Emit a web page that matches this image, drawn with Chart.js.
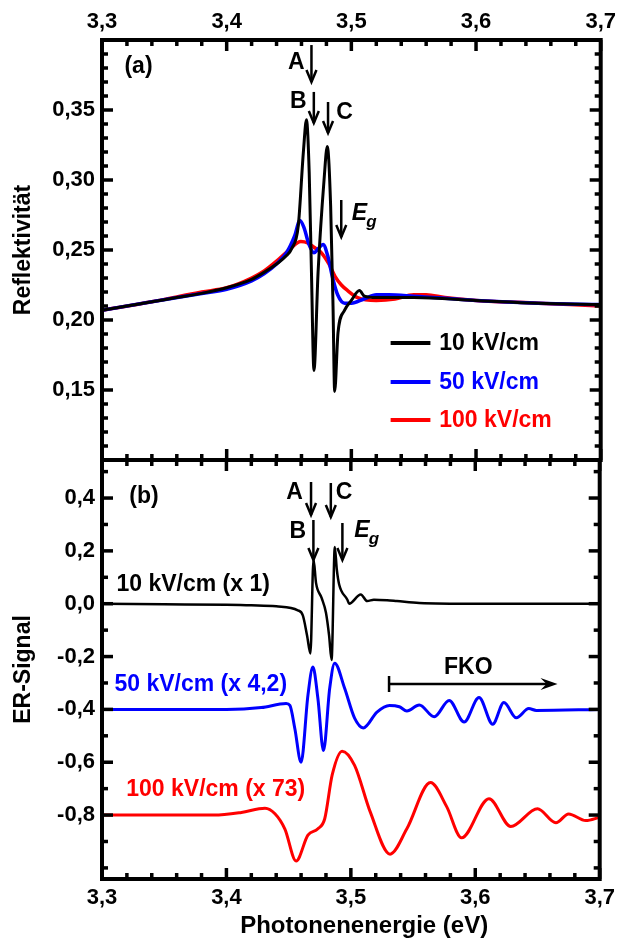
<!DOCTYPE html>
<html>
<head>
<meta charset="utf-8">
<script src="https://cdn.jsdelivr.net/npm/chart.js@4.4.0/dist/chart.umd.min.js"></script>
<style>
  body { margin: 0; background: #ffffff; }
  #wrap { position: relative; width: 621px; height: 943px; }
  #wrap canvas { position: absolute; left: 0; top: 0; }
</style>
</head>
<body>
<div id="wrap">
  <canvas id="reflChart" width="621" height="943"></canvas>
  <canvas id="erChart" width="621" height="943"></canvas>
</div>
<script>
// ---- data ----
var energyTicks = [3.3, 3.4, 3.5, 3.6, 3.7];
var reflTicks = [0.15, 0.20, 0.25, 0.30, 0.35];
var erTicks = [-0.8, -0.6, -0.4, -0.2, 0.0, 0.2, 0.4];

// (a) Reflektivität
var energyR10 = [3.30, 3.32, 3.34, 3.36, 3.38, 3.40, 3.42, 3.43, 3.44, 3.448, 3.4521, 3.4574, 3.4616, 3.464, 3.4662, 3.468, 3.470, 3.4733, 3.4781, 3.4807, 3.4834, 3.4853, 3.4866, 3.4893, 3.4946, 3.500, 3.5065, 3.5105, 3.52, 3.55, 3.60, 3.65, 3.70];
var refl10 = [0.207, 0.210, 0.213, 0.216, 0.219, 0.223, 0.229, 0.234, 0.240, 0.246, 0.251, 0.267, 0.321, 0.343, 0.305, 0.234, 0.164, 0.234, 0.300, 0.324, 0.281, 0.210, 0.149, 0.191, 0.207, 0.214, 0.221, 0.217, 0.216, 0.216, 0.214, 0.212, 0.211];

var energyR50 = [3.30, 3.34, 3.38, 3.40, 3.42, 3.43, 3.44, 3.448, 3.4545, 3.4587, 3.462, 3.466, 3.470, 3.4735, 3.4773, 3.481, 3.485, 3.489, 3.4946, 3.50, 3.51, 3.52, 3.53, 3.55, 3.60, 3.65, 3.70];
var refl50 = [0.207, 0.213, 0.219, 0.222, 0.228, 0.233, 0.240, 0.248, 0.260, 0.271, 0.266, 0.254, 0.248, 0.251, 0.254, 0.246, 0.230, 0.218, 0.212, 0.212, 0.215, 0.218, 0.218, 0.217, 0.214, 0.212, 0.211];

var energyR100 = [3.30, 3.34, 3.38, 3.40, 3.42, 3.43, 3.44, 3.45, 3.4595, 3.465, 3.47, 3.476, 3.482, 3.487, 3.492, 3.497, 3.505, 3.52, 3.535, 3.55, 3.56, 3.575, 3.60, 3.65, 3.70];
var refl100 = [0.207, 0.213, 0.220, 0.223, 0.230, 0.235, 0.242, 0.250, 0.256, 0.255, 0.252, 0.248, 0.240, 0.231, 0.225, 0.221, 0.216, 0.214, 0.215, 0.218, 0.218, 0.216, 0.214, 0.212, 0.210];

// (b) ER-Signal (scaled and offset as in the figure)
var energyE10 = [3.30, 3.35, 3.40, 3.42, 3.44, 3.4574, 3.4614, 3.4648, 3.4675, 3.470, 3.472, 3.4765, 3.480, 3.4825, 3.4845, 3.4871, 3.4887, 3.4906, 3.4972, 3.4986, 3.508, 3.5131, 3.5185, 3.5291, 3.537, 3.555, 3.60, 3.70];
var er10 = [0.0, -0.002, -0.004, -0.006, -0.010, -0.025, -0.044, -0.12, -0.188, 0.168, 0.079, 0.022, -0.034, -0.12, -0.213, 0.215, 0.13, 0.073, 0.015, 0.0, 0.035, 0.01, 0.015, 0.013, 0.01, 0.003, 0.0, 0.0];

var energyE50 = [3.30, 3.35, 3.40, 3.428, 3.448, 3.451, 3.455, 3.460, 3.4655, 3.4695, 3.4735, 3.478, 3.483, 3.487, 3.495, 3.503, 3.510, 3.521, 3.531, 3.539, 3.545, 3.555, 3.567, 3.579, 3.591, 3.603, 3.614, 3.623, 3.633, 3.643, 3.649, 3.70];
var er50 = [-0.40, -0.40, -0.40, -0.393, -0.378, -0.385, -0.473, -0.600, -0.347, -0.24, -0.358, -0.556, -0.32, -0.225, -0.32, -0.433, -0.470, -0.410, -0.385, -0.39, -0.406, -0.383, -0.428, -0.366, -0.448, -0.355, -0.456, -0.374, -0.432, -0.397, -0.404, -0.40];

var energyE100 = [3.30, 3.39, 3.412, 3.431, 3.439, 3.447, 3.456, 3.4655, 3.4735, 3.479, 3.485, 3.493, 3.503, 3.5155, 3.5315, 3.545, 3.564, 3.577, 3.589, 3.611, 3.6285, 3.65, 3.6648, 3.675, 3.6888, 3.70];
var er100 = [-0.80, -0.80, -0.79, -0.774, -0.795, -0.853, -0.974, -0.876, -0.852, -0.814, -0.648, -0.558, -0.612, -0.787, -0.948, -0.852, -0.677, -0.768, -0.886, -0.738, -0.843, -0.776, -0.829, -0.796, -0.821, -0.808];

// ---- helpers ----
var FONT = '"Liberation Sans", Arial, Helvetica, sans-serif';

function fmt(v, d) { return v.toFixed(d).replace('.', ','); }

function toPoints(xs, ys) {
  return xs.map(function (x, i) { return { x: x, y: ys[i] }; });
}

function line(ctx, x1, y1, x2, y2) {
  ctx.beginPath(); ctx.moveTo(x1, y1); ctx.lineTo(x2, y2); ctx.stroke();
}

function arrowDown(ctx, px, py1, py2) {
  line(ctx, px, py1, px, py2);
  ctx.beginPath();
  ctx.moveTo(px - 5, py2 - 12); ctx.lineTo(px, py2); ctx.lineTo(px + 5, py2 - 12);
  ctx.stroke();
}

function drawEg(ctx, px, py) {
  ctx.textAlign = 'left'; ctx.textBaseline = 'middle';
  ctx.font = 'italic bold 23px ' + FONT;
  ctx.fillText('E', px, py);
  var w = ctx.measureText('E').width;
  ctx.font = 'italic bold 17px ' + FONT;
  ctx.fillText('g', px + w - 1, py + 8);
}

// frame with inward ticks on all four sides
function drawFrame(chart, yMinorStart, yMinorStep, yMinorCount, isMajorY) {
  var ctx = chart.ctx, a = chart.chartArea;
  var xs = chart.scales.x, ys = chart.scales.y;
  ctx.save();
  ctx.strokeStyle = '#000';
  ctx.lineWidth = 3.5;
  for (var i = 0; i <= 20; i++) {
    var px = xs.getPixelForValue(3.3 + i * 0.02);
    var len = i % 5 === 0 ? 11 : 6;
    line(ctx, px, a.top, px, a.top + len);
    line(ctx, px, a.bottom, px, a.bottom - len);
  }
  for (var k = 0; k <= yMinorCount; k++) {
    var v = yMinorStart + k * yMinorStep;
    var py = ys.getPixelForValue(v);
    if (py < a.top + 1 || py > a.bottom - 1) continue;
    var l = isMajorY(k) ? 11 : 6;
    line(ctx, a.left, py, a.left + l, py);
    line(ctx, a.right, py, a.right - l, py);
  }
  ctx.lineWidth = 4;
  ctx.strokeRect(a.left, a.top, a.right - a.left, a.bottom - a.top);
  ctx.restore();
}

function axisFont(size) { return { family: FONT, size: size, weight: 'bold' }; }

function xScale(position, afterFit, withTitle) {
  var s = {
    type: 'linear', position: position, min: 3.3, max: 3.7,
    afterFit: afterFit,
    afterBuildTicks: function (sc) { sc.ticks = energyTicks.map(function (v) { return { value: v }; }); },
    ticks: { callback: function (v) { return fmt(v, 1); }, font: axisFont(22), color: '#000', padding: position === 'top' ? 5 : 6, maxRotation: 0 },
    grid: { display: false, drawTicks: false },
    border: { display: false }
  };
  if (withTitle) {
    // leading spaces nudge the centred title a little to the right, as in the figure
    s.title = { display: true, text: '    Photonenenergie (eV)', font: axisFont(24), color: '#000', padding: { top: 0, bottom: 2 } };
  }
  return s;
}

function yScale(min, max, tickList, digits, titleText) {
  return {
    type: 'linear', position: 'left', min: min, max: max,
    afterFit: function (sc) { sc.width = 102; },
    afterBuildTicks: function (sc) { sc.ticks = tickList.map(function (v) { return { value: v }; }); },
    ticks: { callback: function (v) { return fmt(v, digits); }, font: axisFont(22), color: '#000', padding: 7 },
    grid: { display: false, drawTicks: false },
    border: { display: false },
    title: { display: true, text: titleText, font: axisFont(23), color: '#000', padding: { top: 10, bottom: 0 } }
  };
}

var rightPad = {
  type: 'linear', position: 'right', display: true,
  afterFit: function (sc) { sc.width = 17; },
  ticks: { display: false }, grid: { display: false, drawTicks: false }, border: { display: false }
};

var lineDefaults = { point: { radius: 0 }, line: { cubicInterpolationMode: 'monotone', fill: false, borderCapStyle: 'round', borderJoinStyle: 'round' } };

// ---- (a) Reflektivität ----
var reflNotes = {
  id: 'reflNotes',
  afterDraw: function (chart) {
    var ctx = chart.ctx, xs = chart.scales.x, ys = chart.scales.y;
    drawFrame(chart, 0.10, 0.01, 30, function (k) { return k % 5 === 0; });
    ctx.save();
    ctx.fillStyle = '#000'; ctx.strokeStyle = '#000'; ctx.lineWidth = 2.5;
    ctx.font = 'bold 23px ' + FONT;
    ctx.textAlign = 'left'; ctx.textBaseline = 'middle';
    ctx.fillText('(a)', xs.getPixelForValue(3.318), ys.getPixelForValue(0.3807));
    var arrows = [
      { e: 3.4680, y1: 0.3964, y2: 0.3700, t: 'A', lx: 3.4558, ly: 0.3836 },
      { e: 3.4699, y1: 0.3629, y2: 0.3407, t: 'B', lx: 3.4574, ly: 0.3557 },
      { e: 3.4813, y1: 0.3557, y2: 0.3336, t: 'C', lx: 3.4946, ly: 0.3479 },
      { e: 3.4919, y1: 0.2857, y2: 0.2593, t: null }
    ];
    arrows.forEach(function (ar) {
      arrowDown(ctx, xs.getPixelForValue(ar.e), ys.getPixelForValue(ar.y1), ys.getPixelForValue(ar.y2));
      if (ar.t) {
        ctx.font = 'bold 23px ' + FONT; ctx.textAlign = 'center';
        ctx.fillText(ar.t, xs.getPixelForValue(ar.lx), ys.getPixelForValue(ar.ly));
      }
    });
    drawEg(ctx, xs.getPixelForValue(3.5004), ys.getPixelForValue(0.2757));

    // legend
    var rows = [0.1836, 0.1557, 0.1286];
    chart.data.datasets.forEach(function (ds, i) {
      var py = ys.getPixelForValue(rows[i]);
      ctx.strokeStyle = ds.borderColor; ctx.lineWidth = 4;
      line(ctx, xs.getPixelForValue(3.5315), py, xs.getPixelForValue(3.5634), py);
      ctx.fillStyle = ds.borderColor;
      ctx.font = 'bold 23px ' + FONT; ctx.textAlign = 'left'; ctx.textBaseline = 'middle';
      ctx.fillText(ds.label, xs.getPixelForValue(3.5705), py + 1);
    });
    ctx.restore();
  }
};

new Chart(document.getElementById('reflChart').getContext('2d'), {
  type: 'line',
  data: {
    datasets: [
      { label: '10 kV/cm', data: toPoints(energyR10, refl10), borderColor: '#000000', borderWidth: 3 },
      { label: '50 kV/cm', data: toPoints(energyR50, refl50), borderColor: '#0000ff', borderWidth: 3.5 },
      { label: '100 kV/cm', data: toPoints(energyR100, refl100), borderColor: '#ff0000', borderWidth: 3.5 }
    ]
  },
  options: {
    responsive: false, animation: false,
    layout: { autoPadding: false, padding: { top: 0, left: 0, right: 0, bottom: 483 } },
    elements: lineDefaults,
    plugins: { legend: { display: false }, tooltip: { enabled: false } },
    scales: {
      x: xScale('top', function (sc) { sc.height = 40; }, false),
      y: yScale(0.10, 0.40, reflTicks, 2, 'Reflektivität'),
      yr: rightPad
    }
  },
  plugins: [reflNotes]
});

// ---- (b) ER-Signal ----
var erNotes = {
  id: 'erNotes',
  afterDraw: function (chart) {
    var ctx = chart.ctx, xs = chart.scales.x, ys = chart.scales.y;
    drawFrame(chart, -1.0, 0.1, 15, function (k) { return k % 2 === 0 && k >= 2 && k <= 14; });
    ctx.save();
    ctx.fillStyle = '#000'; ctx.strokeStyle = '#000'; ctx.lineWidth = 2.5;
    ctx.font = 'bold 23px ' + FONT;
    ctx.textAlign = 'left'; ctx.textBaseline = 'middle';
    ctx.fillText('(b)', xs.getPixelForValue(3.3219), ys.getPixelForValue(0.404));
    var arrows = [
      { e: 3.4680, y1: 0.4607, y2: 0.3358, t: 'A', lx: 3.4547, ly: 0.4191 },
      { e: 3.4839, y1: 0.4569, y2: 0.3283, t: 'C', lx: 3.4946, ly: 0.4191 },
      { e: 3.4699, y1: 0.3169, y2: 0.1655, t: 'B', lx: 3.4574, ly: 0.2715 },
      { e: 3.4932, y1: 0.3055, y2: 0.1655, t: null }
    ];
    arrows.forEach(function (ar) {
      arrowDown(ctx, xs.getPixelForValue(ar.e), ys.getPixelForValue(ar.y1), ys.getPixelForValue(ar.y2));
      if (ar.t) {
        ctx.font = 'bold 23px ' + FONT; ctx.textAlign = 'center';
        ctx.fillText(ar.t, xs.getPixelForValue(ar.lx), ys.getPixelForValue(ar.ly));
      }
    });
    drawEg(ctx, xs.getPixelForValue(3.5028), ys.getPixelForValue(0.2753));

    // series labels
    var labels = [
      { t: '10 kV/cm (x 1)', x: 3.3116, y: 0.0709 },
      { t: '50 kV/cm (x 4,2)', x: 3.3100, y: -0.3076 },
      { t: '100 kV/cm (x 73)', x: 3.3195, y: -0.7050 }
    ];
    labels.forEach(function (lb, i) {
      ctx.fillStyle = chart.data.datasets[i].borderColor;
      ctx.font = 'bold 23px ' + FONT; ctx.textAlign = 'left'; ctx.textBaseline = 'middle';
      ctx.fillText(lb.t, xs.getPixelForValue(lb.x), ys.getPixelForValue(lb.y));
    });

    // FKO range arrow
    ctx.fillStyle = '#000'; ctx.strokeStyle = '#000'; ctx.lineWidth = 2.5;
    var fy = ys.getPixelForValue(-0.3038);
    var fx1 = xs.getPixelForValue(3.5307), fx2 = xs.getPixelForValue(3.6661);
    line(ctx, fx1, fy, fx2 - 6, fy);
    line(ctx, fx1, fy - 8, fx1, fy + 8);
    ctx.beginPath();
    ctx.moveTo(fx2, fy); ctx.lineTo(fx2 - 17, fy - 6); ctx.lineTo(fx2 - 11, fy); ctx.lineTo(fx2 - 17, fy + 6);
    ctx.closePath(); ctx.fill();
    ctx.font = 'bold 23px ' + FONT; ctx.textAlign = 'center'; ctx.textBaseline = 'middle';
    ctx.fillText('FKO', xs.getPixelForValue(3.5944), ys.getPixelForValue(-0.2433));
    ctx.restore();
  }
};

new Chart(document.getElementById('erChart').getContext('2d'), {
  type: 'line',
  data: {
    datasets: [
      { label: '10 kV/cm (x 1)', data: toPoints(energyE10, er10), borderColor: '#000000', borderWidth: 2.5 },
      { label: '50 kV/cm (x 4,2)', data: toPoints(energyE50, er50), borderColor: '#0000ff', borderWidth: 3 },
      { label: '100 kV/cm (x 73)', data: toPoints(energyE100, er100), borderColor: '#ff0000', borderWidth: 3 }
    ]
  },
  options: {
    responsive: false, animation: false,
    layout: { autoPadding: false, padding: { top: 460, left: 0, right: 0, bottom: 0 } },
    elements: lineDefaults,
    plugins: { legend: { display: false }, tooltip: { enabled: false } },
    scales: {
      x: xScale('bottom', function (sc) { sc.height = 64; }, true),
      y: yScale(-1.042, 0.544, erTicks, 1, 'ER-Signal'),
      yr: rightPad
    }
  },
  plugins: [erNotes]
});
</script>
</body>
</html>
